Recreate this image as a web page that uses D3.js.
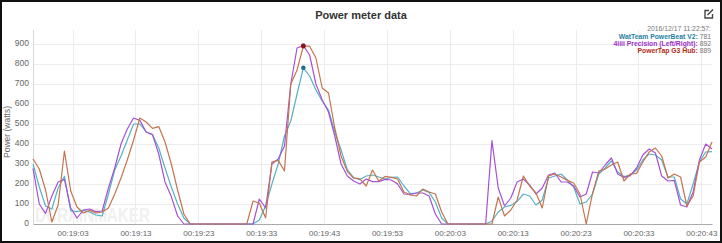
<!DOCTYPE html>
<meta charset="utf-8">
<style>
  body { margin: 0; background: #fff; }
  svg { display: block; font-family: 'Liberation Sans', Arial, sans-serif; }
  .grid line { stroke: #ececec; shape-rendering: crispEdges; }
  .axis text { fill: #666; font-size: 8px; }
  .series { fill: none; stroke-width: 1.2px; stroke-linejoin: round; }
</style>
<script src="https://d3js.org/d3.v7.min.js"></script>
<body>
<div id="chart"></div>
</body>
<script>

// chart size
var width = 722,
    height = 243,
    margin = {top: 30, right: 10, bottom: 19, left: 33}

// one sample per second, first one at 00:18:56.7
var startTime = "00:18:56.7"
var tickLabels = ["00:19:03", "00:19:13", "00:19:23", "00:19:33", "00:19:43", "00:19:53",
                  "00:20:03", "00:20:13", "00:20:23", "00:20:33", "00:20:43"]
var yTicks = [0, 100, 200, 300, 400, 500, 600, 700, 800, 900]

var seriesNames = ["WatTeam PowerBeat V2", "4iiii Precision (Left/Right)", "PowerTap G3 Hub"]
var lineColors = ["#55b2c6", "#a552d6", "#c4744e"]
var labelColors = ["#1f7fa3", "#9a2fc4", "#b02a12"]

var watTeam = [300, 185, 90, 75, 180, 238, 65, 62, 68, 60, 45, 40, 150, 270, 340, 420, 500, 500, 460, 447,
               380, 280, 185, 100, 30, 0, 0, 0, 0, 0, 0, 0, 0, 0, 0, 0, 20, 90, 200, 300,
               440, 515, 650, 781, 740, 670, 615, 570, 460, 370, 270, 232, 222, 240, 245, 235, 225, 233, 235, 190,
               152, 155, 170, 158, 110, 30, 0, 0, 0, 0, 0, 0, 0, 15, 60, 85, 93, 112, 150, 140,
               95, 120, 230, 240, 250, 220, 185, 100, 110, 150, 250, 280, 315, 260, 237, 245, 270, 320, 350, 345,
               320, 235, 235, 125, 100, 200, 310, 360, 362]

var fourIiii = [278, 100, 53, 140, 210, 223, 80, 30, 70, 75, 62, 65, 180, 280, 400, 475, 530, 518, 460, 447,
                350, 210, 137, 40, 0, 0, 0, 0, 0, 0, 0, 0, 0, 0, 0, 0, 125, 80, 300, 325,
                390, 700, 880, 892, 845, 700, 620, 560, 440, 300, 240, 215, 200, 225, 212, 212, 223, 220, 200, 150,
                148, 155, 155, 140, 50, 0, 0, 0, 0, 0, 0, 0, 0, 417, 180, 90, 130, 210, 225, 195,
                150, 180, 245, 255, 210, 210, 190, 135, 150, 260, 255, 295, 330, 250, 233, 242, 280, 345, 375, 355,
                240, 215, 218, 95, 85, 160, 320, 400, 375]

var powerTap = [325, 275, 170, 10, 95, 365, 165, 85, 55, 68, 55, 60, 80, 150, 230, 320, 420, 530, 510, 478,
                487, 410, 300, 170, 50, 0, 0, 0, 0, 0, 0, 0, 0, 0, 0, 115, 105, 30, 310, 318,
                265, 700, 770, 889, 889, 830, 680, 655, 480, 340, 262, 230, 226, 190, 270, 215, 238, 233, 225, 160,
                145, 140, 175, 160, 150, 60, 0, 0, 0, 0, 0, 0, 0, 0, 135, 40, 70, 120, 240, 190,
                155, 80, 240, 250, 235, 218, 205, 150, 0, 153, 265, 275, 295, 310, 215, 250, 253, 310, 360, 380,
                340, 230, 250, 235, 90, 140, 310, 335, 410]

// hovered sample shown in the top right box
var hoverIndex = 43
var hoverStamp = "2016/12/17 11:22:57:"

function toSec(s) {
  var p = s.split(":")
  return (+p[0]) * 3600 + (+p[1]) * 60 + (+p[2])
}

var t0 = toSec(startTime)
var allSeries = [watTeam, fourIiii, powerTap]

var svg = d3.select("#chart").append("svg")
    .attr("width", width)
    .attr("height", height)

// frame
svg.append("rect")
    .attr("x", 1).attr("y", 1)
    .attr("width", width - 2).attr("height", height - 2)
    .attr("fill", "#fff")
    .attr("stroke", "#111")
    .attr("stroke-width", 2)

var x = d3.scaleLinear()
    .domain([t0, t0 + watTeam.length - 1])
    .range([margin.left, width - margin.right])

var y = d3.scaleLinear()
    .domain([0, 900])
    .range([224, 44])

// grid
svg.append("g").attr("class", "grid")
  .selectAll("line.h")
  .data(yTicks.slice(1))
  .enter().append("line")
    .attr("x1", margin.left).attr("x2", width - margin.right)
    .attr("y1", function(d) { return Math.round(y(d)) + 0.5 })
    .attr("y2", function(d) { return Math.round(y(d)) + 0.5 })

svg.select(".grid")
  .selectAll("line.v")
  .data(tickLabels)
  .enter().append("line")
    .attr("x1", function(d) { return Math.round(x(toSec(d))) + 0.5 })
    .attr("x2", function(d) { return Math.round(x(toSec(d))) + 0.5 })
    .attr("y1", margin.top).attr("y2", 224)

svg.append("line")
    .attr("x1", margin.left + 0.5).attr("x2", margin.left + 0.5)
    .attr("y1", margin.top).attr("y2", 224)
    .attr("stroke", "#d8d8d8")

// watermark
svg.append("text")
    .attr("x", 35).attr("y", 222)
    .attr("font-size", 21)
    .attr("font-weight", "bold")
    .attr("textLength", 115)
    .attr("lengthAdjust", "spacingAndGlyphs")
    .attr("fill", "#f0f0f0")
    .text("DCRAINMAKER")

// axes
var xAxis = d3.axisBottom(x)
    .tickValues(tickLabels.map(toSec))
    .tickFormat(function(d, i) { return tickLabels[i] })
    .tickSize(0)
    .tickPadding(6)

var gx = svg.append("g")
    .attr("class", "axis")
    .attr("transform", "translate(0,224)")
    .call(xAxis)
gx.select(".domain").attr("stroke", "#aaa")

var yAxis = d3.axisLeft(y)
    .tickValues(yTicks)
    .tickSize(0)
    .tickPadding(4)

var gy = svg.append("g")
    .attr("class", "axis")
    .attr("transform", "translate(" + margin.left + ",-1)")
    .call(yAxis)
gy.select(".domain").remove()
gy.selectAll("text").style("font-size", "8.5px")

svg.append("text")
    .attr("transform", "translate(10,132) rotate(-90)")
    .attr("text-anchor", "middle")
    .attr("font-size", 8.5)
    .attr("fill", "#666")
    .text("Power (watts)")

// lines
var line = d3.line()
    .x(function(d, i) { return x(t0 + i) })
    .y(function(d) { return y(d) })

svg.selectAll("path.series")
    .data(allSeries)
    .enter().append("path")
    .attr("class", "series")
    .attr("stroke", function(d, i) { return lineColors[i] })
    .attr("d", line)

// markers at hovered point
svg.selectAll("circle.mark")
    .data([fourIiii, powerTap, watTeam])
    .enter().append("circle")
    .attr("cx", x(t0 + hoverIndex))
    .attr("cy", function(d) { return y(d[hoverIndex]) })
    .attr("r", 2.3)
    .attr("fill", function(d) { return d === watTeam ? "#1d6f8a" : d === powerTap ? "#8e0f0f" : "#7a2aa0" })

// title
svg.append("text")
    .attr("x", width / 2).attr("y", 19)
    .attr("text-anchor", "middle")
    .attr("font-size", 11)
    .attr("font-weight", "bold")
    .attr("fill", "#333")
    .text("Power meter data")

// export icon
var icon = svg.append("g").attr("transform", "translate(704,10)")
    .attr("fill", "none").attr("stroke", "#444").attr("stroke-width", 1.4)
icon.append("path").attr("d", "M5,0.5 H1 V8 H8.5 V4")
icon.append("path").attr("d", "M3.5,5 L9,-0.5")

// hover info box
var info = svg.append("g")
    .attr("font-size", 6.8)
    .attr("text-anchor", "end")

info.append("text")
    .attr("x", 711).attr("y", 31)
    .attr("fill", "#777")
    .text(hoverStamp)

seriesNames.forEach(function(name, i) {
  var t = info.append("text")
      .attr("x", 711).attr("y", 38.5 + i * 7.3)
  t.append("tspan")
      .attr("fill", labelColors[i])
      .attr("font-weight", "bold")
      .text(name + ":")
  t.append("tspan")
      .attr("fill", "#777")
      .text(" " + allSeries[i][hoverIndex])
})

</script>
